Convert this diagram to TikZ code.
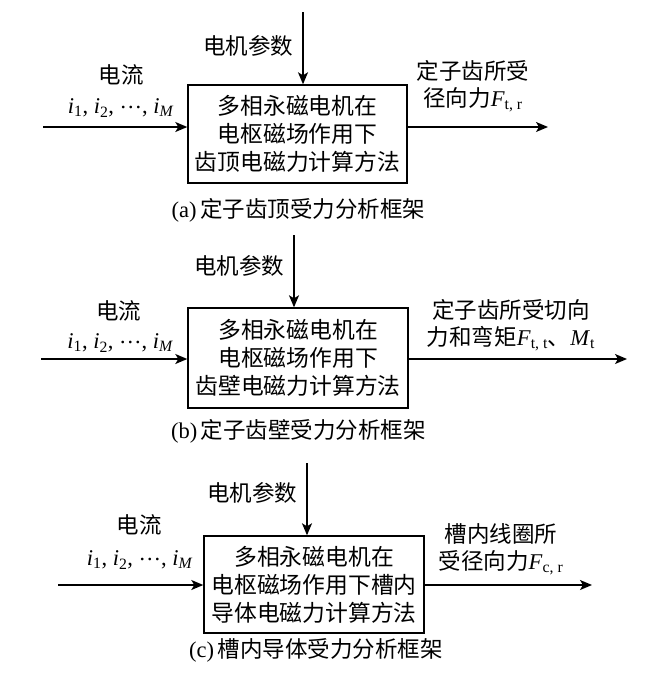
\documentclass[tikz,border=0pt]{standalone}
\usepackage{fontspec}
\setmainfont{Liberation Serif}
\newfontfamily\cjk{Noto Sans CJK SC}
\usetikzlibrary{arrows.meta}
\newcommand{\vsub}[2]{\textit{#1}\textsubscript{#2}}
\newcommand{\currents}{\vsub{i}{1}, \vsub{i}{2}, \raisebox{0.22em}{…}, \vsub{i}{\textit{M}}}
\begin{document}
\begin{tikzpicture}[x=1pt,y=-1pt,
  box/.style={draw, line width=1.4pt, inner sep=0pt, align=center,
    font=\cjk\fontsize{22.8}{28}\selectfont},
  lbl/.style={inner sep=0pt, align=center, font=\fontsize{22.5}{27}\selectfont},
  capt/.style={inner sep=0pt, font=\fontsize{22.5}{26}\selectfont},
  arr/.style={line width=1.4pt, -{Stealth[length=12pt,width=10pt,inset=3pt]}}]
\useasboundingbox (0,0) rectangle (653,675);

% ---------- (a) ----------
\node[box, minimum width=219pt, minimum height=98pt] (ba) at (297.5,134)
  {多相永磁电机在\\电枢磁场作用下\\齿顶电磁力计算方法};
\coordinate (ta) at (303,12);
\coordinate (la) at (43,127);
\coordinate (ra) at (548,127);
\draw[arr] (ta) -- (ta |- ba.north);
\draw[arr] (la) -- (la -| ba.west);
\draw[arr] (ra -| ba.east) -- (ra);
\node[lbl] (pa) at (248,46) {\cjk 电机参数};
\node[lbl] (ca) at (121,75) {\cjk 电流};
\node[lbl] (ia) at (121,108) {\currents};
\node[lbl] (oa) at (473,86.5) {{\cjk 定子齿所受}\\{\cjk 径向力}\vsub{F}{t, r}};
\node[capt] (capa) at (298.5,210) {(a)\,{\cjk 定子齿顶受力分析框架}};

% ---------- (b) ----------
\node[box, minimum width=220pt, minimum height=100pt] (bb) at (298,358)
  {多相永磁电机在\\电枢磁场作用下\\齿壁电磁力计算方法};
\coordinate (tb) at (294,235);
\coordinate (lb) at (41,359);
\coordinate (rb) at (627,359);
\draw[arr] (tb) -- (tb |- bb.north);
\draw[arr] (lb) -- (lb -| bb.west);
\draw[arr] (rb -| bb.east) -- (rb);
\node[lbl] (pb) at (239,266) {\cjk 电机参数};
\node[lbl] (cb) at (118.5,311) {\cjk 电流};
\node[lbl] (ib) at (120.5,343) {\currents};
\node[lbl] (ob) at (511,325) {{\cjk 定子齿所受切向}\\{\cjk 力和弯矩}\vsub{F}{t, t}{\cjk 、}\vsub{M}{t}};
\node[capt] (capb) at (298.5,431) {(b)\,{\cjk 定子齿壁受力分析框架}};

% ---------- (c) ----------
\node[box, minimum width=220pt, minimum height=97pt] (bc) at (314,584.5)
  {多相永磁电机在\\电枢磁场作用下槽内\\导体电磁力计算方法};
\coordinate (tc) at (307,463);
\coordinate (lc) at (58,585);
\coordinate (rc) at (592,585);
\draw[arr] (tc) -- (tc |- bc.north);
\draw[arr] (lc) -- (lc -| bc.west);
\draw[arr] (rc -| bc.east) -- (rc);
\node[lbl] (pc) at (252,493) {\cjk 电机参数};
\node[lbl] (cc) at (139,525) {\cjk 电流};
\node[lbl] (ic) at (140,560) {\currents};
\node[lbl] (oc) at (501,549) {{\cjk 槽内线圈所}\\{\cjk 受径向力}\vsub{F}{c, r}};
\node[capt] (capc) at (316,650) {(c)\,{\cjk 槽内导体受力分析框架}};
\end{tikzpicture}
\end{document}
